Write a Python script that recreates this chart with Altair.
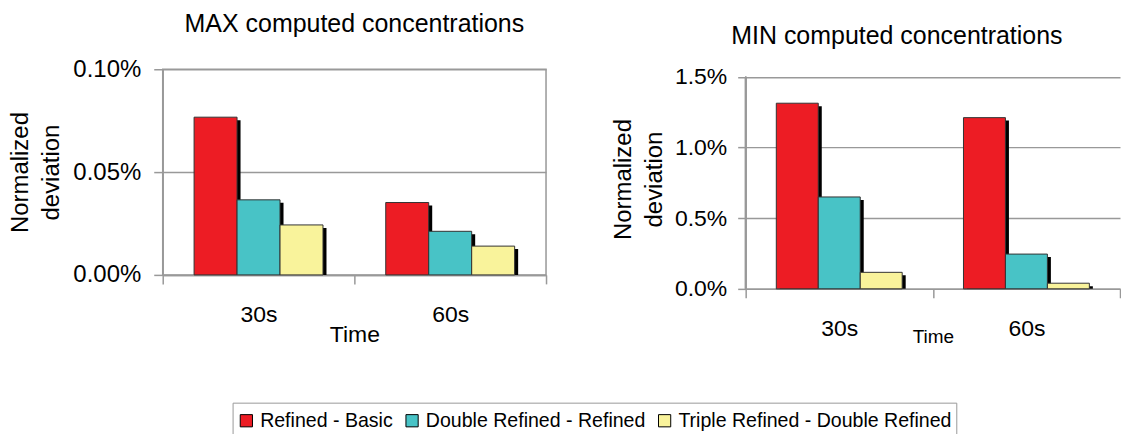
import altair as alt
import pandas as pd

# Categories and series
times = ["30s", "60s"]
series = ["Refined - Basic", "Double Refined - Refined", "Triple Refined - Double Refined"]
colors = ["#ED1C24", "#48C3C6", "#F9F39B"]

# Normalized deviation (percent) of the MAX computed concentrations
max_30s = [0.0767, 0.0365, 0.0243]
max_60s = [0.0352, 0.0212, 0.0140]
# Normalized deviation (percent) of the MIN computed concentrations
min_30s = [1.313, 0.650, 0.117]
min_60s = [1.211, 0.246, 0.040]

max_ticks = [0.0, 0.05, 0.10]
min_ticks = [0.0, 0.5, 1.0, 1.5]

FONT = "Liberation Sans"
GRAY = "#999999"


def table(v30, v60):
    rows = []
    for t, vals in zip(times, [v30, v60]):
        for s, v in zip(series, vals):
            rows.append({"time": t, "series": s, "value": v})
    return pd.DataFrame(rows)


def panel(df, ticks, y_top, fmt, width, height, title, title_dx, title_offset,
          x_title_size, x_title_y, y_title_x, y_title_y, y_label_size,
          y_label_pad, y_tick_size, framed):
    step = width / len(times)
    x = alt.X(
        "time:N", sort=times,
        scale=alt.Scale(paddingInner=0, paddingOuter=0),
        axis=alt.Axis(
            title="Time", labelAngle=0, labelFontSize=23, labelPadding=20,
            labelColor="black", tickSize=9, tickBand="extent",
            tickColor=GRAY, tickWidth=1.5, domainColor=GRAY, domainWidth=1.5,
            titleFontSize=x_title_size, titleFontWeight="normal",
            titleColor="black", titleY=x_title_y, titleBaseline="top",
            grid=False,
        ),
    )
    y_scale = alt.Scale(domain=[0, y_top], nice=False, zero=True)
    y_axis = alt.Axis(
        values=ticks,
        labelExpr=f"format(datum.value, '{fmt}') + '%'",
        labelFontSize=y_label_size, labelPadding=y_label_pad,
        labelColor="black", tickSize=y_tick_size, tickColor=GRAY,
        tickWidth=1.5, domain=framed, domainColor=GRAY, domainWidth=1.5,
        grid=True, gridColor=GRAY, gridWidth=1.5,
        title=["Normalized", "deviation"], titleFontSize=24,
        titleFontWeight="normal", titleColor="black",
        titleX=y_title_x, titleY=y_title_y, titleBaseline="alphabetic",
        titleAlign="center", titleAngle=270, titleLineHeight=31,
    )
    y = alt.Y("value:Q", scale=y_scale, axis=y_axis)
    base = alt.Chart(df)
    # drop shadow: shifted right and down, bottom kept on the baseline
    shadow = base.mark_bar(color="black", yOffset=3).encode(
        x=x,
        xOffset=alt.XOffset(
            "series:N", sort=series,
            scale=alt.Scale(range=[3.5, step + 3.5], paddingInner=0, paddingOuter=0.73),
        ),
        y=y,
        y2=alt.Y2(datum=0),
    )
    bars = base.mark_bar(stroke="#333333", strokeWidth=1).encode(
        x=x,
        xOffset=alt.XOffset(
            "series:N", sort=series,
            scale=alt.Scale(paddingInner=0, paddingOuter=0.73),
        ),
        y=y,
        color=alt.Color(
            "series:N", sort=series,
            scale=alt.Scale(domain=series, range=colors),
            legend=alt.Legend(
                title=" ", titleFontSize=1, titlePadding=3,
                orient="none", legendX=70, legendY=334,
                direction="horizontal", symbolType="square", symbolSize=150,
                symbolStrokeColor="black", symbolStrokeWidth=1,
                labelFontSize=19.6, labelFont=FONT, labelColor="black",
                labelOffset=4, columnPadding=9, labelLimit=400,
                strokeColor=GRAY, padding=4, fillColor="white",
            ),
        ),
    )
    layers = [shadow, bars]
    if not framed:
        # vertical axis line drawn only up to the top tick
        axis_line = alt.Chart(df).mark_rule(color=GRAY, strokeWidth=1.5).encode(
            x=alt.value(0),
            y=alt.Y(datum=ticks[0], scale=y_scale, axis=y_axis),
            y2=alt.Y2(datum=ticks[-1]),
        )
        layers.append(axis_line)
    view = (alt.ViewBackground(stroke=GRAY, strokeWidth=1.5) if framed
            else alt.ViewBackground(stroke="transparent"))
    return alt.layer(*layers).resolve_scale(xOffset="independent").properties(
        width=width, height=height, view=view,
        title=alt.TitleParams(
            title, fontSize=25, fontWeight="normal", font=FONT, color="black",
            anchor="middle", frame="group", dx=title_dx, offset=title_offset,
        ),
    )


left = panel(table(max_30s, max_60s), max_ticks, 0.10, ".2f", 384, 206,
             "MAX computed concentrations", 0, 20, 23, 49, -135, 103,
             24, 13, 9, True)
right = panel(table(min_30s, min_60s), min_ticks, 1.553, ".1f", 375, 220,
              "MIN computed concentrations", -36, 17, 19, 39, -115, 110,
              23, 11, 8, False)

chart = alt.hconcat(left, right, spacing=200, bounds="flush").properties(
    padding={"left": 8, "top": 11, "right": 0, "bottom": 0},
    background="white",
).configure(font=FONT).configure_view(strokeWidth=0)

chart.save("out.html", embed_options={"renderer": "svg", "actions": False})
